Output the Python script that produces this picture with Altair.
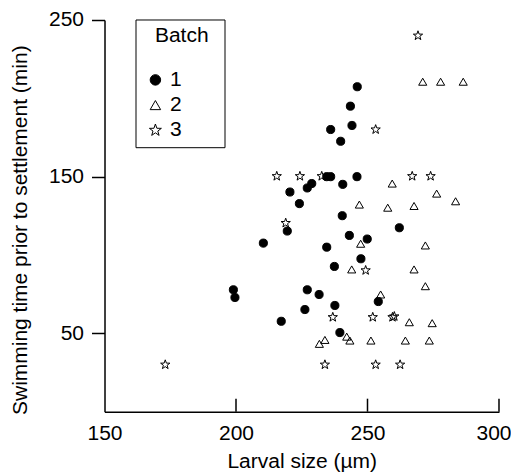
import altair as alt
import pandas as pd

# ---- data ----
batch1_x = [246.1, 243.5, 244.1, 236.0, 239.8, 234.5, 236.0, 246.0, 228.8, 227.1,
            240.6, 220.5, 224.1, 240.4, 262.1, 219.5, 210.4, 243.1, 249.9, 234.5,
            247.5, 237.4, 199.0, 199.6, 227.1, 231.6, 237.6, 226.2, 254.1, 217.2, 239.5]
batch1_y = [207.4, 195.0, 182.7, 180.1, 172.6, 150.0, 150.0, 150.0, 145.6, 142.8,
            145.1, 140.2, 132.8, 125.1, 117.4, 115.3, 107.6, 112.5, 110.2, 105.0,
            97.6, 92.7, 77.8, 72.9, 77.8, 74.8, 67.8, 65.2, 70.3, 57.7, 50.5]

batch2_x = [271.0, 277.8, 286.4, 259.4, 276.3, 283.5, 246.9, 257.7, 267.7, 247.4,
            272.0, 244.0, 267.7, 272.0, 255.0, 265.9, 274.6, 231.7, 233.8, 242.1,
            243.3, 251.3, 264.4, 273.5]
batch2_y = [210.6, 210.6, 210.6, 145.6, 139.2, 134.3, 132.2, 130.2, 131.3, 107.2,
            106.1, 90.8, 90.8, 80.1, 74.8, 57.1, 56.5, 43.3, 45.8, 47.9,
            45.4, 45.4, 45.4, 45.4]

batch3_x = [269.2, 253.1, 215.5, 224.3, 232.6, 267.0, 274.0, 218.9, 249.3, 236.8,
            252.0, 259.5, 260.2, 173.1, 233.8, 253.1, 262.4]
batch3_y = [240.0, 180.1, 150.3, 150.3, 150.3, 150.3, 150.3, 120.4, 90.2, 60.3,
            60.3, 60.3, 60.8, 30.0, 30.0, 30.0, 30.0]

batches = ["1", "2", "3"]
x_label_values = [150, 200, 250, 300]
x_inner_ticks = [200, 250, 300]
y_tick_values = [50, 150, 250]

rows = []
for b, xs, ys in zip(batches, [batch1_x, batch2_x, batch3_x], [batch1_y, batch2_y, batch3_y]):
    for xv, yv in zip(xs, ys):
        rows.append({"size": xv, "time": yv, "Batch": b})
df = pd.DataFrame(rows)

STAR = ("M0,-1.2L0.282,-0.389L1.141,-0.371L0.456,0.149L0.706,0.971L0,0.48"
        "L-0.706,0.971L-0.456,0.149L-1.141,-0.371L-0.282,-0.389Z")

W = 394.5
H = 391.7
FONT = "Liberation Sans"

xscale = alt.Scale(domain=[150, 300], nice=False, zero=False)
yscale = alt.Scale(domain=[0, 250], nice=False, zero=False)

points = alt.Chart(df).mark_point(
    filled=True, strokeWidth=1, opacity=1, size=66
).encode(
    x=alt.X("size:Q", scale=xscale,
            axis=alt.Axis(values=x_label_values, title="Larval size (\u00b5m)",
                          tickSize=0, labelPadding=10.7, grid=False, labelFlush=False,
                          labelOffset={"condition": {"test": "datum.value == 300", "value": -5.5},
                                       "value": 0},
                          titleBaseline="alphabetic", titleY=56)),
    y=alt.Y("time:Q", scale=yscale,
            axis=alt.Axis(values=y_tick_values, title="Swimming time prior to settlement (min)",
                          tickSize=13, labelPadding=8, grid=False, labelFlush=False,
                          titleAngle=-90, titleBaseline="alphabetic",
                          titleX=-78.5, titleY=209.7, titleAlign="center")),
    shape=alt.Shape("Batch:N", scale=alt.Scale(domain=batches,
                                               range=["circle", "triangle-up", STAR]),
                    legend=alt.Legend(title="Batch")),
    fill=alt.Fill("Batch:N", scale=alt.Scale(domain=batches,
                                             range=["#000000", "transparent", "transparent"]),
                  legend=alt.Legend(title="Batch")),
    stroke=alt.Stroke("Batch:N", scale=alt.Scale(domain=batches,
                                                 range=["#000000", "#000000", "#000000"]),
                      legend=alt.Legend(title="Batch")),
)

inner_ticks = alt.Chart(pd.DataFrame({"t": x_inner_ticks})).mark_rule(
    color="black", strokeWidth=1.5
).encode(
    x=alt.X("t:Q", scale=xscale),
    y=alt.value(H),
    y2=alt.value(H - 13),
)

legend_box = alt.Chart(alt.Data(values=[{"k": 1}])).mark_rect(
    fill="transparent", stroke="black", strokeWidth=1
).encode(
    x=alt.value(31.5), x2=alt.value(120.5),
    y=alt.value(0), y2=alt.value(127.7),
)

chart = alt.layer(legend_box, inner_ticks, points).properties(
    width=W, height=H,
    autosize=alt.AutoSizeParams(type="none"),
    padding={"left": 96.5, "top": 12, "right": 12, "bottom": 60},
).configure_view(
    stroke=None
).configure_axis(
    labelFont=FONT, titleFont=FONT, labelFontSize=21, titleFontSize=21,
    labelColor="black", titleColor="black", titleFontWeight="normal",
    domainColor="black", domainWidth=1.5, tickColor="black", tickWidth=1.5,
).configure_legend(
    orient="none", legendX=50.4, legendY=5.4, padding=0,
    titleFont=FONT, labelFont=FONT, titleFontSize=21, labelFontSize=21,
    titleFontWeight="normal", titleColor="black", labelColor="black",
    symbolSize=110, symbolStrokeWidth=1,
    symbolOffset=-10, labelOffset=4, titlePadding=23, rowPadding=3.2,
)

chart.save("out.html", embed_options={"renderer": "svg", "actions": False})
